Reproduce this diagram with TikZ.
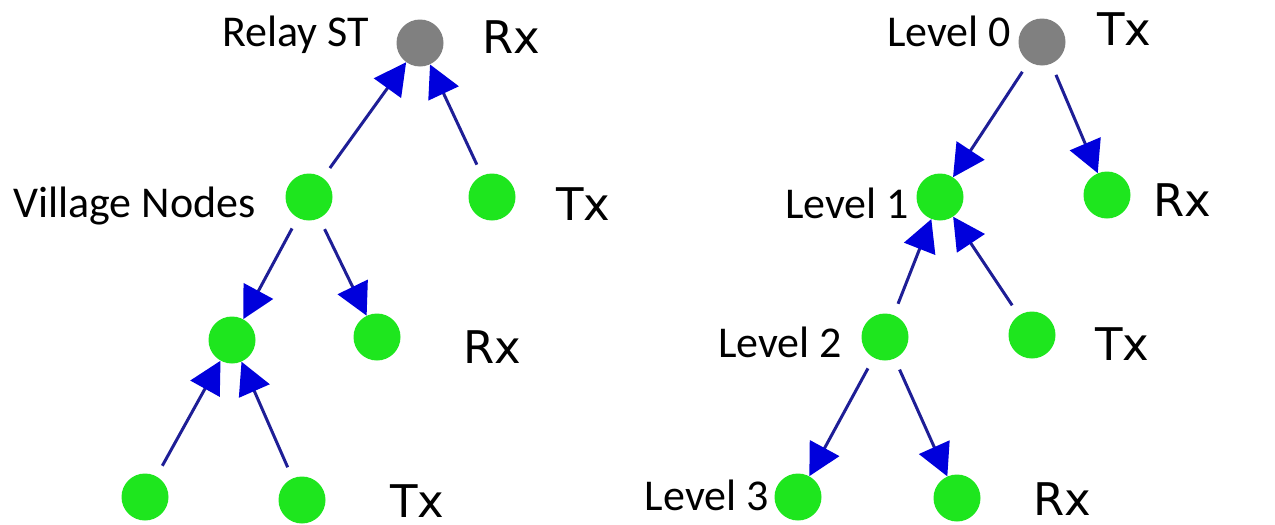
\documentclass[tikz,border=0pt]{standalone}
\usepackage{fontspec}
\setmainfont{Carlito}
\newfontfamily\rxfont{DejaVu Sans}
\usetikzlibrary{arrows.meta}
\definecolor{nodegreen}{RGB}{30,230,30}
\definecolor{rootgray}{RGB}{128,128,128}
\definecolor{linkblue}{RGB}{30,30,150}
\definecolor{headblue}{RGB}{0,0,220}
\tikzset{
  gnode/.style={circle,fill=nodegreen,minimum size=47pt,inner sep=0pt},
  rnode/.style={circle,fill=rootgray,minimum size=47pt,inner sep=0pt},
  link/.style={draw=linkblue,line width=3pt,shorten <=12pt,
    -{Triangle[length=32pt,width=33pt,fill=headblue,color=headblue]}},
  lvl/.style={anchor=base west,inner sep=0pt,font=\fontsize{44pt}{48pt}\selectfont},
  rtx/.style={anchor=base west,inner sep=0pt,font=\rxfont\fontsize{45pt}{48pt}\selectfont},
}
\begin{document}
\begin{tikzpicture}[x=1pt,y=-1pt]
\useasboundingbox (0,0) rectangle (1275,525);
% left tree
\node[rnode] (a0) at (420,43) {};
\node[gnode] (a1) at (309,197) {};
\node[gnode] (a2) at (492,197) {};
\node[gnode] (a3) at (232,340) {};
\node[gnode] (a4) at (377,337) {};
\node[gnode] (a5) at (145,497) {};
\node[gnode] (a6) at (302,500) {};
\draw[link] (a1) -- (a0);
\draw[link] (a2) -- (a0);
\draw[link] (a1) -- (a3);
\draw[link] (a1) -- (a4);
\draw[link] (a5) -- (a3);
\draw[link] (a6) -- (a3);
\node[lvl] (lrelay) at (222,46) {Relay ST};
\node[lvl] (lvillage) at (13,217) {Village Nodes};
\node[rtx] (t1) at (482,53) {Rx};
\node[rtx] (t2) at (556,220) {Tx};
\node[rtx] (t3) at (463,363) {Rx};
\node[rtx] (t4) at (390,517) {Tx};
% right tree
\node[rnode] (b0) at (1042,42) {};
\node[gnode] (b1) at (940,197) {};
\node[gnode] (b2) at (1107,195) {};
\node[gnode] (b3) at (885,337) {};
\node[gnode] (b4) at (1032,335) {};
\node[gnode] (b5) at (798,497) {};
\node[gnode] (b6) at (957,498) {};
\draw[link] (b0) -- (b1);
\draw[link] (b0) -- (b2);
\draw[link] (b3) -- (b1);
\draw[link] (b4) -- (b1);
\draw[link] (b3) -- (b5);
\draw[link] (b3) -- (b6);
\node[lvl] (l0) at (887,46) {Level 0};
\node[lvl] (l1) at (785,218) {Level 1};
\node[lvl] (l2) at (718,357) {Level 2};
\node[lvl,anchor=base east] (l3) at (769,510) {Level 3};
\node[rtx] (u1) at (1097,45) {Tx};
\node[rtx] (u2) at (1153,216) {Rx};
\node[rtx] (u3) at (1095,360) {Tx};
\node[rtx] (u4) at (1033,515) {Rx};
\end{tikzpicture}
\end{document}
